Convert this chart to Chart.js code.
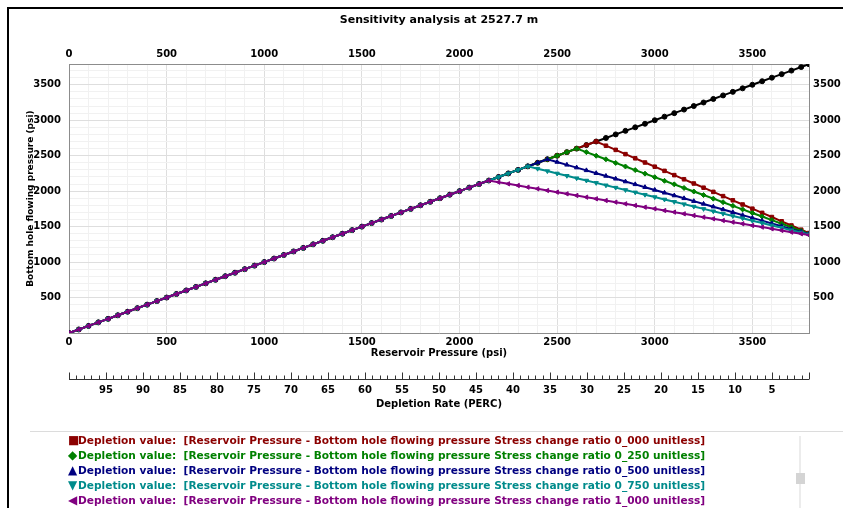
<!DOCTYPE html>
<html>
<head>
<meta charset="utf-8">
<script src="https://cdn.jsdelivr.net/npm/chart.js@4.4.1/dist/chart.umd.min.js"></script>
<style>
  html, body { margin: 0; padding: 0; background: #fff; }
  #wrap { position: relative; width: 843px; height: 508px; overflow: hidden; }
  #chart { position: absolute; left: 0; top: 0; }
  .frame-top { position: absolute; left: 7px; top: 7px; width: 836px; height: 2px; background: #000; }
  .frame-left { position: absolute; left: 7px; top: 7px; width: 2px; height: 501px; background: #000; }
  #sep { position: absolute; left: 30px; top: 431px; width: 813px; height: 1px; background: #dcdcdc; }
  #legend { position: absolute; left: 68px; top: 433px; font: bold 10.6px "DejaVu Sans", sans-serif; line-height: 15px; white-space: pre; }
  #legend .mk { display: inline-block; width: 10px; font-size: 12px; line-height: 15px; }
  #track { position: absolute; left: 799px; top: 436px; width: 2px; height: 72px; background: #ececec; }
  #thumb { position: absolute; left: 796px; top: 473px; width: 9px; height: 11px; background: #d4d4d4; }
</style>
</head>
<body>
<div id="wrap">
  <canvas id="chart" width="843" height="508"></canvas>
  <div class="frame-top"></div>
  <div class="frame-left"></div>
  <div id="sep"></div>
  <div id="legend"></div>
  <div id="track"></div>
  <div id="thumb"></div>
</div>
<script>
// ---- data (psi) ----
const pressure = [0,50,100,150,200,250,300,350,400,450,500,550,600,650,700,750,800,850,900,950,
  1000,1050,1100,1150,1200,1250,1300,1350,1400,1450,1500,1550,1600,1650,1700,1750,1800,1850,1900,1950,
  2000,2050,2100,2150,2200,2250,2300,2350,2400,2450,2500,2550,2600,2650,2700,2750,2800,2850,2900,2950,
  3000,3050,3100,3150,3200,3250,3300,3350,3400,3450,3500,3550,3600,3650,3700,3750,3790];

// no depletion effect (black)
const bhpBase = [0,50,100,150,200,250,300,350,400,450,500,550,600,650,700,750,800,850,900,950,
  1000,1050,1100,1150,1200,1250,1300,1350,1400,1450,1500,1550,1600,1650,1700,1750,1800,1850,1900,1950,
  2000,2050,2100,2150,2200,2250,2300,2350,2400,2450,2500,2550,2600,2650,2700,2750,2800,2850,2900,2950,
  3000,3050,3100,3150,3200,3250,3300,3350,3400,3450,3500,3550,3600,3650,3700,3750,3790];

const bhpRatio000 = [0,50,100,150,200,250,300,350,400,450,500,550,600,650,700,750,800,850,900,950,
  1000,1050,1100,1150,1200,1250,1300,1350,1400,1450,1500,1550,1600,1650,1700,1750,1800,1850,1900,1950,
  2000,2050,2100,2150,2200,2250,2300,2350,2400,2450,2500,2550,2600,2650,2700,2641,2582,2522,2463,2404,
  2345,2286,2226,2167,2108,2049,1990,1930,1871,1812,1753,1694,1635,1575,1516,1457,1410];

const bhpRatio025 = [0,50,100,150,200,250,300,350,400,450,500,550,600,650,700,750,800,850,900,950,
  1000,1050,1100,1150,1200,1250,1300,1350,1400,1450,1500,1550,1600,1650,1700,1750,1800,1850,1900,1950,
  2000,2050,2100,2150,2200,2250,2300,2350,2400,2450,2500,2550,2600,2550,2499,2449,2398,2348,2297,2247,
  2197,2146,2096,2045,1995,1945,1894,1844,1793,1743,1692,1642,1592,1541,1491,1440,1400];

const bhpRatio050 = [0,50,100,150,200,250,300,350,400,450,500,550,600,650,700,750,800,850,900,950,
  1000,1050,1100,1150,1200,1250,1300,1350,1400,1450,1500,1550,1600,1650,1700,1750,1800,1850,1900,1950,
  2000,2050,2100,2150,2200,2250,2300,2350,2400,2450,2411,2371,2332,2293,2253,2214,2174,2135,2096,2056,
  2017,1977,1938,1899,1859,1820,1781,1741,1702,1662,1623,1584,1544,1505,1465,1426,1395];

const bhpRatio075 = [0,50,100,150,200,250,300,350,400,450,500,550,600,650,700,750,800,850,900,950,
  1000,1050,1100,1150,1200,1250,1300,1350,1400,1450,1500,1550,1600,1650,1700,1750,1800,1850,1900,1950,
  2000,2050,2100,2150,2200,2250,2300,2350,2317,2283,2250,2217,2183,2150,2117,2083,2050,2017,1983,1950,
  1917,1883,1850,1817,1783,1750,1717,1683,1650,1617,1583,1550,1517,1483,1450,1417,1390];

const bhpRatio100 = [0,50,100,150,200,250,300,350,400,450,500,550,600,650,700,750,800,850,900,950,
  1000,1050,1100,1150,1200,1250,1300,1350,1400,1450,1500,1550,1600,1650,1700,1750,1800,1850,1900,1950,
  2000,2050,2100,2150,2127,2103,2080,2056,2033,2009,1986,1962,1939,1915,1892,1868,1845,1821,1798,1774,
  1751,1727,1704,1680,1657,1633,1610,1586,1563,1540,1516,1493,1469,1446,1422,1399,1380];

const ratioNames = ["0_000", "0_250", "0_500", "0_750", "1_000"];
const axisMax = 3790;

// ---- styles ----
const colors = { black: "#000000", red: "#8b0000", green: "#008000", blue: "#000080", teal: "#008b8b", purple: "#800080" };
const toPoints = ys => pressure.map((p, i) => ({ x: p, y: ys[i] }));

function series(ys, color, style, rot, order) {
  return {
    data: toPoints(ys), borderColor: color, backgroundColor: color,
    pointBorderColor: color, pointBackgroundColor: color,
    pointStyle: style, pointRotation: rot, pointRadius: 2.5, pointBorderWidth: 1,
    borderWidth: 2, tension: 0, order: order
  };
}

// fixed tick positions (linear scale step logic ignores stepSize here)
const buildTicks = (step, last) => s => {
  const t = [];
  for (let v = 0; v <= last; v += step) t.push({ value: v });
  s.ticks = t;
};

const gridColor = c => (c.tick && c.tick.value % 500 === 0) ? "#dedede" : "#f1f1f1";
const tickFont = { family: "DejaVu Sans", size: 10, weight: "bold" };
const titleFont = { family: "DejaVu Sans", size: 10, weight: "bold" };
const every500 = v => (v % 500 === 0 && v > 0) ? String(v) : "";

// depletion axis: line with ticks pointing up
const depletionTicks = {
  id: "depletionTicks",
  afterDraw(chart) {
    const s = chart.scales.dep, ctx = chart.ctx;
    const y = Math.round(s.top + 16) + 0.5;
    ctx.save();
    ctx.strokeStyle = "#333";
    ctx.lineWidth = 1;
    ctx.beginPath();
    ctx.moveTo(s.getPixelForValue(100), y);
    ctx.lineTo(s.getPixelForValue(0), y);
    s.ticks.forEach(t => {
      const x = Math.round(s.getPixelForValue(t.value)) + 0.5;
      const len = t.value % 5 === 0 ? 7 : 4;
      ctx.moveTo(x, y);
      ctx.lineTo(x, y - len);
    });
    ctx.stroke();
    ctx.restore();
  }
};

new Chart(document.getElementById("chart"), {
  type: "line",
  data: {
    datasets: [
      series(bhpBase, colors.black, "circle", 0, 6),
      series(bhpRatio000, colors.red, "rect", 0, 5),
      series(bhpRatio025, colors.green, "rectRot", 0, 4),
      series(bhpRatio050, colors.blue, "triangle", 0, 3),
      series(bhpRatio075, colors.teal, "triangle", 180, 2),
      series(bhpRatio100, colors.purple, "triangle", 270, 1)
    ]
  },
  options: {
    responsive: false,
    animation: false,
    devicePixelRatio: 1,
    layout: { padding: { left: 12, right: 0, top: 0, bottom: 98 } },
    plugins: {
      legend: { display: false },
      tooltip: { enabled: false },
      title: {
        display: true, text: "Sensitivity analysis at 2527.7 m", fullSize: false,
        color: "#000", font: { family: "DejaVu Sans", size: 11, weight: "bold" },
        padding: { top: 14, bottom: 17 }
      }
    },
    scales: {
      x: {
        type: "linear", position: "bottom", min: 0, max: axisMax, weight: 0,
        afterBuildTicks: buildTicks(100, 3700),
        ticks: { autoSkip: false, maxRotation: 0, padding: 3,
                 color: "#000", font: tickFont, callback: v => (v % 500 === 0) ? String(v) : "" },
        grid: { color: gridColor, drawTicks: false },
        border: { color: "#8c8c8c" },
        title: { display: true, text: "Reservoir Pressure (psi)", color: "#000", font: titleFont, padding: { top: 0, bottom: 4 } },
        afterFit: s => { s.height = 30; }
      },
      dep: {
        type: "linear", position: "bottom", min: 0, max: 100, reverse: true, weight: 1,
        afterBuildTicks: buildTicks(1, 100),
        ticks: { autoSkip: false, maxRotation: 0, padding: 21,
                 color: "#000", font: tickFont, callback: v => (v % 5 === 0 && v > 0 && v < 100) ? String(v) : "" },
        grid: { display: false, drawTicks: false },
        border: { display: false },
        title: { display: true, text: "Depletion Rate (PERC)", color: "#000", font: titleFont, padding: { top: 0, bottom: 0 } },
        afterFit: s => { s.height = 47; }
      },
      x2: {
        type: "linear", position: "top", min: 0, max: axisMax,
        afterBuildTicks: buildTicks(500, 3500),
        ticks: { autoSkip: false, maxRotation: 0, padding: 4, color: "#000", font: tickFont, callback: v => String(v) },
        grid: { display: false, drawTicks: false },
        border: { color: "#8c8c8c" },
        afterFit: s => { s.height = 20; }
      },
      y: {
        type: "linear", position: "left", min: 0, max: axisMax,
        afterBuildTicks: buildTicks(100, 3700),
        ticks: { autoSkip: false, padding: 8, color: "#000", font: tickFont, callback: every500 },
        grid: { color: gridColor, drawTicks: false },
        border: { color: "#8c8c8c" },
        title: { display: true, text: "Bottom hole flowing pressure (psi)", color: "#000",
                 font: { family: "DejaVu Sans", size: 9, weight: "bold" }, padding: { top: 13, bottom: 0 } },
        afterFit: s => { s.width = 57; }
      },
      y2: {
        type: "linear", position: "right", min: 0, max: axisMax,
        afterBuildTicks: buildTicks(500, 3500),
        ticks: { autoSkip: false, padding: 4, color: "#000", font: tickFont, callback: every500 },
        grid: { display: false, drawTicks: false },
        border: { color: "#8c8c8c" },
        afterFit: s => { s.width = 34; }
      }
    }
  },
  plugins: [depletionTicks]
});

// ---- legend (html) ----
const legendColors = [colors.red, colors.green, colors.blue, colors.teal, colors.purple];
const legendMarks = ["\u25A0", "\u25C6", "\u25B2", "\u25BC", "\u25C0"];
const legend = document.getElementById("legend");
ratioNames.forEach((r, i) => {
  const row = document.createElement("div");
  row.style.color = legendColors[i];
  const mk = document.createElement("span");
  mk.className = "mk";
  mk.textContent = legendMarks[i];
  row.appendChild(mk);
  row.appendChild(document.createTextNode("Depletion value:  [Reservoir Pressure - Bottom hole flowing pressure Stress change ratio " + r + " unitless]"));
  legend.appendChild(row);
});
</script>
</body>
</html>
